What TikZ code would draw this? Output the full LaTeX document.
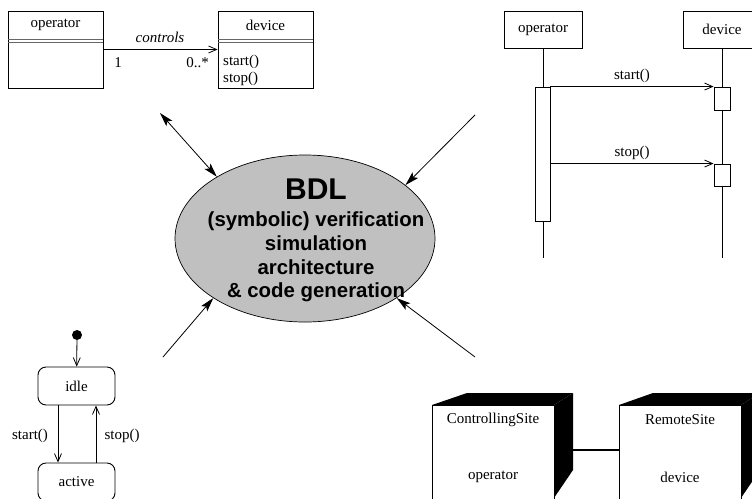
\documentclass[tikz,border=0pt]{standalone}
\usepackage{fontspec}
\setmainfont{Liberation Serif}
\newfontfamily\bdlfont{Liberation Sans}
\usetikzlibrary{arrows.meta,shapes.geometric}
\definecolor{bdlgray}{RGB}{192,192,192}
\begin{document}
\begin{tikzpicture}[x=1pt,y=-1pt,
  txt/.style={font=\fontsize{15}{18}\selectfont, inner sep=0pt},
  box/.style={draw, line width=0.9pt, inner sep=0pt, font=\fontsize{15}{18}\selectfont},
  openarr/.style={-{Straight Barb[length=8pt,width=7pt]}, line width=0.8pt},
  bigarr/.style={-{Stealth[length=14pt,width=8pt,inset=3pt]}, line width=0.8pt},
  bigboth/.style={{Stealth[length=14pt,width=8pt,inset=3pt]}-{Stealth[length=14pt,width=8pt,inset=3pt]}, line width=0.8pt},
  sepline/.style={draw=gray!80!black, line width=0.9pt},
  bdltxt/.style={font=\bdlfont\bfseries\fontsize{20.4}{24}\selectfont, inner sep=0pt, anchor=base},
]
\useasboundingbox (0,0) rectangle (752,498);
\begin{scope}
\clip (0,0) rectangle (752,498);

% ---------------- class diagram
\node[box, minimum width=95pt, minimum height=77pt] (cop) at (55.5,49.5) {};
\node[box, minimum width=95pt, minimum height=77pt] (cdev) at (265.5,49.5) {};
\node[txt] (copname) at (55.5,25) {operator};
\node[txt] (cdevname) at (265.5,25) {device};
\draw[sepline] (8,39) -- (103,39);
\draw[sepline] (8,42) -- (103,42);
\draw[sepline] (218,39) -- (313,39);
\draw[sepline] (218,42) -- (313,42);
\node[txt, anchor=west] (cstart) at (223,62) {start()};
\node[txt, anchor=west] (cstop) at (223,79) {stop()};
\draw[openarr] (cop.east) -- (cdev.west);
\node[txt, font=\fontsize{15}{18}\selectfont\itshape] (ctl) at (160,37) {controls};
\node[txt] (one) at (118,63) {1};
\node[txt] (many) at (197.5,63) {0..*};

% ---------------- sequence diagram
\node[box, minimum width=78pt, minimum height=37pt] (sop) at (543,29.5) {operator};
\node[box, minimum width=78pt, minimum height=37pt] (sdev) at (722,29.5) {device};
\coordinate (sopend) at (543,258);
\coordinate (sdevend) at (722,258);
\draw[line width=0.8pt] (sop.south) -- (sopend);
\draw[line width=0.8pt] (sdev.south) -- (sdevend);
\node[box, fill=white, minimum width=15pt, minimum height=134pt] (act) at (542.5,154) {};
\node[box, fill=white, minimum width=16pt, minimum height=23pt] (dact1) at (722,98.5) {};
\node[box, fill=white, minimum width=16pt, minimum height=22pt] (dact2) at (722,175) {};
\draw[openarr] (act.east |- dact1.north) -- (dact1.north west);
\draw[openarr] (act.east |- dact2.north) -- (dact2.north west);
\node[txt] (mstart) at (632,76) {start()};
\node[txt] (mstop) at (632,153) {stop()};

% ---------------- state diagram
\node[circle, fill=black, minimum size=10pt, inner sep=0pt] (init) at (77,335) {};
\node[box, rounded corners=8pt, minimum width=77pt, minimum height=38pt] (idle) at (76.5,386) {idle};
\node[box, rounded corners=8pt, minimum width=77pt, minimum height=38pt] (active) at (76.5,482) {active};
\draw[openarr] (init) -- (idle);
\draw[openarr] ([xshift=-18.5pt]idle.south) -- ([xshift=-18.5pt]active.north);
\draw[openarr] ([xshift=19.5pt]active.north) -- ([xshift=19.5pt]idle.south);
\node[txt] (tstart) at (30,436) {start()};
\node[txt] (tstop) at (122,436) {stop()};

% ---------------- deployment diagram
\node[box, minimum width=122pt, minimum height=120pt] (ctrl) at (493,465) {};
\fill (432,405) -- (467,393) -- (573,393) -- (554,405) -- cycle;
\fill (554,405) -- (573,393) -- (573,470) -- (554,498) -- cycle;
\node[txt] (ctrlname) at (493,420) {ControllingSite};
\node[txt] (ctrlobj) at (493,477) {operator};
\node[box, minimum width=122pt, minimum height=120pt] (remote) at (680,465) {};
\fill (619,405) -- (653,393) -- (760,393) -- (741,405) -- cycle;
\fill (741,405) -- (760,393) -- (760,470) -- (741,498) -- cycle;
\node[txt] (remname) at (680,420) {RemoteSite};
\node[txt] (remobj) at (680,477) {device};
\coordinate (ctrlside) at (573,450);
\draw[line width=2pt] (ctrlside) -- (remote.west |- ctrlside);

% ---------------- BDL ellipse
\node[ellipse, draw, fill=bdlgray, line width=0.7pt, minimum width=260pt, minimum height=167pt, inner sep=0pt] (bdl) at (305,238.5) {};
\node[bdltxt, font=\bdlfont\bfseries\fontsize{30}{34}\selectfont] (t1) at (316,199) {BDL};
\node[bdltxt] (t2) at (316,226) {(symbolic) verification};
\node[bdltxt] (t3) at (316,250) {simulation};
\node[bdltxt] (t4) at (316,274) {architecture};
\node[bdltxt] (t5) at (316,297) {\&\ code generation};

\coordinate (ftl) at (160,113);
\coordinate (ftr) at (475,115);
\coordinate (fbl) at (163,357);
\coordinate (fbr) at (475,357);
\draw[bigboth] (ftl) -- (bdl.145);
\draw[bigarr] (ftr) -- (bdl.28);
\draw[bigarr] (fbl) -- (bdl.213);
\draw[bigarr] (fbr) -- (bdl.327);
\end{scope}
\end{tikzpicture}
\end{document}
